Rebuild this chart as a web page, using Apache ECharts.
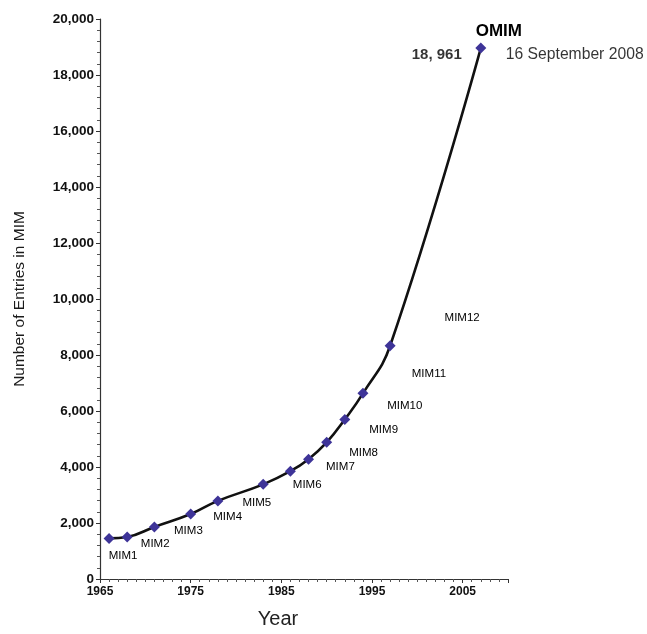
<!DOCTYPE html>
<html>
<head>
<meta charset="utf-8">
<script src="https://cdn.jsdelivr.net/npm/echarts@6/dist/echarts.min.js"></script>
<style>
html,body{margin:0;padding:0;background:#fff;}
#chart{width:647px;height:634px;}
</style>
</head>
<body>
<div id="chart"></div>
<script>
// ---- data ----
var editions = ['MIM1','MIM2','MIM3','MIM4','MIM5','MIM6','MIM7','MIM8','MIM9','MIM10','MIM11','MIM12','OMIM'];
var years    = [1966, 1968, 1971, 1975, 1978, 1983, 1986, 1988, 1990, 1992, 1994, 1997, 2007];
var entries  = [1450, 1500, 1860, 2320, 2790, 3380, 3850, 4280, 4880, 5700, 6630, 8330, 18961];
var omimValueText = '18, 961';
var omimDateText = '16 September 2008';
var xTicks = [1965, 1975, 1985, 1995, 2005];

// ---- label placement (style, not data) ----
var labelOffsets = [[14,17],[28,7],[34,4],[37,3],[39,2],[44,0],[50,-4],[55,-6],[57,-13],[60,-14],[66,-20],[72,-28]];

var chart = echarts.init(document.getElementById('chart'));
var fontFam = 'Liberation Sans, Arial, Helvetica, sans-serif';
var markColor = '#3e3498';

var pts = years.map(function(y, i){ return [y, entries[i]]; });
var mimData = pts.slice(0, 12).map(function(p, i){
  return {
    value: p, name: editions[i],
    label: { show: true, position: 'inside', offset: labelOffsets[i], formatter: editions[i] }
  };
});
var last = pts.length - 1;

var option = {
  backgroundColor: '#fff',
  animation: false,
  grid: { left: 100, right: 139, top: 19, bottom: 54, containLabel: false },
  xAxis: {
    type: 'value', min: 1965, max: 2010, interval: 10,
    name: 'Year', nameLocation: 'middle', nameGap: 30,
    nameTextStyle: { fontFamily: fontFam, fontSize: 20, color: '#222', padding: [0, 52, 0, 0] },
    axisLine: { show: true, onZero: false, lineStyle: { color: '#333', width: 1.2 } },
    axisTick: { show: true, length: 4, lineStyle: { color: '#333' } },
    minorTick: { show: true, splitNumber: 10, length: 3, lineStyle: { color: '#555' } },
    splitLine: { show: false },
    axisLabel: {
      fontFamily: fontFam, fontSize: 12, fontWeight: 'bold', color: '#111', margin: 7,
      formatter: function(v){ return xTicks.indexOf(v) >= 0 ? String(v) : ''; }
    }
  },
  yAxis: {
    type: 'value', min: 0, max: 20000, interval: 2000,
    name: 'Number of Entries in MIM', nameLocation: 'middle', nameGap: 72,
    nameTextStyle: { fontFamily: fontFam, fontSize: 15.5, color: '#1a1a1a' },
    axisLine: { show: true, lineStyle: { color: '#333', width: 1.2 } },
    axisTick: { show: true, length: 4, lineStyle: { color: '#333' } },
    minorTick: { show: true, splitNumber: 5, length: 3, lineStyle: { color: '#555' } },
    splitLine: { show: false },
    axisLabel: {
      fontFamily: fontFam, fontSize: 13.5, fontWeight: 'bold', color: '#111', margin: 6,
      formatter: function(v){ return v === 0 ? '0' : v.toLocaleString('en-US'); }
    }
  },
  series: [
    {
      type: 'line', name: 'curve', data: pts, smooth: 0.45, symbol: 'none',
      lineStyle: { color: '#111', width: 2.6 }, z: 2, silent: true
    },
    {
      type: 'scatter', name: 'editions', data: mimData, symbol: 'diamond', symbolSize: 11,
      itemStyle: { color: markColor, opacity: 1 }, z: 3,
      label: { show: true, fontFamily: fontFam, fontSize: 11.5, color: '#000' },
      emphasis: { disabled: true }
    },
    {
      type: 'scatter', name: 'omim', symbol: 'diamond', symbolSize: 11,
      itemStyle: { color: markColor, opacity: 1 }, z: 3,
      emphasis: { disabled: true },
      data: [{
        value: pts[last], name: editions[last],
        label: { show: true, position: 'inside', offset: [18, -17], formatter: editions[last],
                 fontFamily: fontFam, fontSize: 17, fontWeight: 'bold', color: '#000' }
      }]
    },
    {
      type: 'scatter', name: 'omim-value', symbol: 'circle', symbolSize: 2, silent: true,
      itemStyle: { color: 'rgba(0,0,0,0)' }, z: 1,
      data: [{
        value: pts[last],
        label: { show: true, position: 'left', distance: 18, offset: [0, 7], formatter: omimValueText,
                 fontFamily: fontFam, fontSize: 15, fontWeight: 'bold', color: '#000' }
      }]
    },
    {
      type: 'scatter', name: 'omim-date', symbol: 'circle', symbolSize: 2, silent: true,
      itemStyle: { color: 'rgba(0,0,0,0)' }, z: 1,
      data: [{
        value: pts[last],
        label: { show: true, position: 'right', distance: 24, offset: [0, 7], formatter: omimDateText,
                 fontFamily: fontFam, fontSize: 15.7, color: '#000' }
      }]
    }
  ]
};
chart.setOption(option);
</script>
</body>
</html>
